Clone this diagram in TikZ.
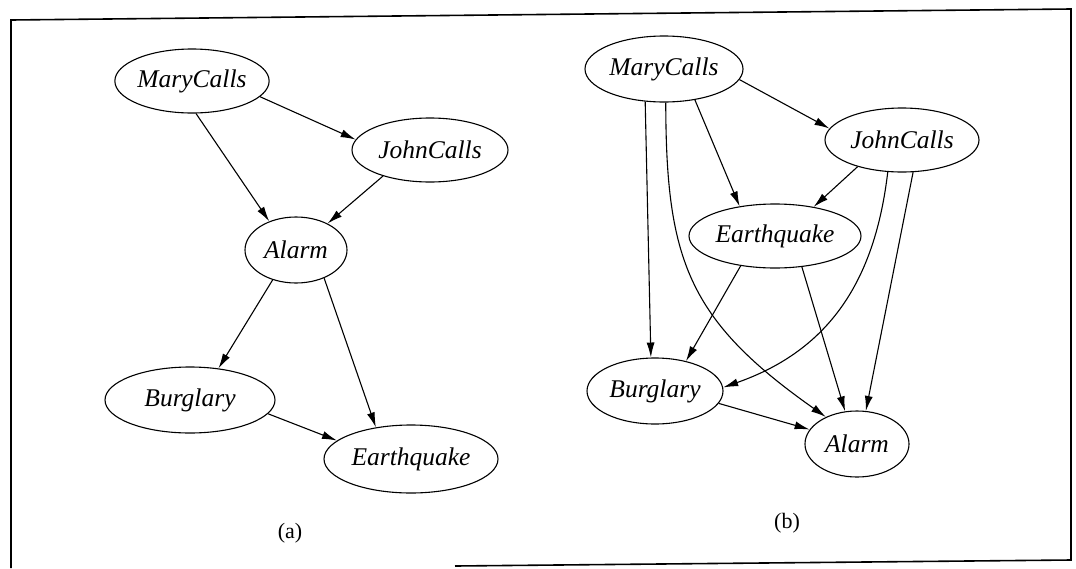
\documentclass[tikz,border=0pt]{standalone}
\usepackage{fontspec}
\setmainfont{Liberation Serif}
\usetikzlibrary{shapes.geometric,arrows.meta}
\tikzset{
  var/.style={ellipse, draw, line width=1.1pt, inner sep=0pt,
    font=\fontsize{25.5}{30}\selectfont\itshape},
  edge/.style={line width=1.1pt, -{Latex[length=15pt,width=8pt]}},
  frameline/.style={line width=1.6pt},
  caption/.style={font=\fontsize{22}{26}\selectfont}
}
\begin{document}
\begin{tikzpicture}[x=1pt,y=-1pt]
\useasboundingbox (0,0) rectangle (1076,568);

% frame
\coordinate (f1) at (11,568);
\coordinate (f2) at (11,20);
\coordinate (f3) at (1071,9);
\coordinate (f4) at (1071,560);
\coordinate (f5) at (455,566);
\draw[frameline] (f1) -- (f2) -- (f3) -- (f4) -- (f5);

% (a)
\node[var, minimum width=154pt, minimum height=64pt] (ma) at (192,81) {MaryCalls};
\node[var, minimum width=156pt, minimum height=64pt] (ja) at (430,150) {JohnCalls};
\node[var, minimum width=102pt, minimum height=66pt] (aa) at (296,250) {Alarm};
\node[var, minimum width=170pt, minimum height=66pt] (ba) at (190,400) {Burglary};
\node[var, minimum width=174pt, minimum height=68pt] (ea) at (411,459) {Earthquake};
\node[caption] (capa) at (290,533) {(a)};

\draw[edge] (ma.-13) -- (ja.172);
\draw[edge] (ma.-83) -- (aa.133);
\draw[edge] (ja.-151) -- (aa.40);
\draw[edge] (aa.-128) -- (ba.48);
\draw[edge] (aa.-45) -- (ea.138);
\draw[edge] (ba.-10) -- (ea.166);

% (b)
\node[var, minimum width=158pt, minimum height=66pt] (mb) at (664,69) {MaryCalls};
\node[var, minimum width=154pt, minimum height=64pt] (jb) at (902,140) {JohnCalls};
\node[var, minimum width=172pt, minimum height=64pt] (eb) at (775,236) {Earthquake};
\node[var, minimum width=136pt, minimum height=66pt] (bb) at (655,391) {Burglary};
\node[var, minimum width=104pt, minimum height=66pt] (ab) at (857,444) {Alarm};
\node[caption] (capb) at (787,523) {(b)};

\draw[edge] (mb.-8) -- (jb.171);
\draw[edge] (mb.-45) -- (eb.140);
\draw[edge] (mb.-120) -- (bb.97);
\draw[edge] (mb.-87) .. controls (666,260) and (688,320) .. (ab.139);
\draw[edge] (jb.-149) -- (eb.37);
\draw[edge] (jb.-114) .. controls (875,280) and (830,350) .. (bb.3);
\draw[edge] (jb.-71) -- (ab.75);
\draw[edge] (eb.-139) -- (bb.44);
\draw[edge] (eb.-49) -- (ab.110);
\draw[edge] (bb.-11) -- (ab.163);
\end{tikzpicture}
\end{document}
